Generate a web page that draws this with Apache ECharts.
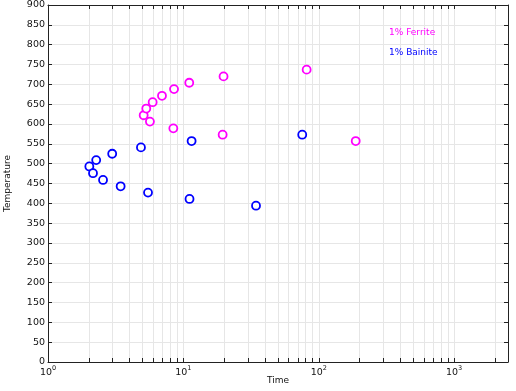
<!DOCTYPE html>
<html><head><meta charset="utf-8">
<script src="https://cdn.jsdelivr.net/npm/echarts@6/dist/echarts.min.js"></script>
<style>html,body{margin:0;padding:0;background:#fff}#c{width:516px;height:391px}</style>
</head><body><div id="c"></div>
<script>
const ferriteTime = [5.09, 5.32, 5.93, 5.66, 6.95, 8.53, 8.43, 11.05, 19.8, 19.5, 81.4, 187.5];
const ferriteTemp = [622, 639, 655, 606, 671, 688, 589, 704, 720, 573, 737, 557];
const bainiteTime = [2.02, 2.15, 2.27, 2.55, 2.98, 3.44, 4.86, 5.48, 11.5, 11.1, 34.4, 75.5];
const bainiteTemp = [493, 476, 509, 459, 525, 443, 541, 427, 557, 411, 394, 573];
const xTickValues = [1,2,3,4,5,6,7,8,9,10,20,30,40,50,60,70,80,90,100,200,300,400,500,600,700,800,900,1000,2000];
const xLabelValues = [1, 10, 100, 1000];
const seriesNames = ['1% Ferrite', '1% Bainite'];
const colors = ['#ff00ff', '#0000ff'];

const font = 'DejaVu Sans';
const axisLineStyle = {color: '#222', width: 1};
const tickStyle = {show: true, inside: true, length: 4, lineStyle: {color: '#222'}};

function pairs(xs, ys){ return xs.map((x,i)=>[x, ys[i]]); }

const chart = echarts.init(document.getElementById('c'), null, {renderer: 'canvas'});
chart.setOption({
  animation: false,
  backgroundColor: '#fff',
  grid: {left: 48, right: 8, top: 5, bottom: 29, containLabel: false, outerBoundsMode: 'none'},
  legend: {
    orient: 'vertical', left: 384, top: 27, itemGap: 8, itemWidth: 0, itemHeight: 0, padding: 0,
    icon: 'none', selectedMode: false,
    textStyle: {fontFamily: font, fontSize: 9, lineHeight: 12},
    data: seriesNames.map((n,i)=>({name: n, icon: 'none', textStyle: {color: colors[i]}}))
  },
  xAxis: [{
    type: 'log', logBase: 10, min: 1, max: 2500, position: 'bottom',
    name: 'Time', nameLocation: 'middle', nameGap: 14, nameMoveOverlap: false,
    nameTextStyle: {fontFamily: font, fontSize: 9, color: '#111'},
    axisLine: {show: true, onZero: false, lineStyle: axisLineStyle},
    axisTick: Object.assign({customValues: xTickValues}, tickStyle),
    minorTick: {show: false},
    splitLine: {show: true, lineStyle: {color: '#e6e6e6', width: 1}},
    axisLabel: {
      customValues: xLabelValues, margin: 3, color: '#111',
      formatter: v => '{b|10}{s|' + Math.round(Math.log10(v)) + '}',
      rich: {b: {fontFamily: font, fontSize: 9.5, color: '#111', verticalAlign: 'bottom'},
             s: {fontFamily: font, fontSize: 6.5, color: '#111', verticalAlign: 'top', padding: [0,0,6,0]}}
    }
  }, {
    type: 'log', logBase: 10, min: 1, max: 2500, position: 'top',
    axisLine: {show: true, onZero: false, lineStyle: axisLineStyle},
    axisTick: Object.assign({customValues: xTickValues}, tickStyle),
    splitLine: {show: false}, axisLabel: {show: false}
  }],
  yAxis: [{
    type: 'value', min: 0, max: 900, interval: 50, position: 'left',
    name: 'Temperature', nameLocation: 'middle', nameGap: 36, nameRotate: 90, nameMoveOverlap: false,
    nameTextStyle: {fontFamily: font, fontSize: 9, color: '#111'},
    axisLine: {show: true, onZero: false, lineStyle: axisLineStyle},
    axisTick: tickStyle,
    splitLine: {show: true, lineStyle: {color: '#e6e6e6', width: 1}},
    axisLabel: {fontFamily: font, fontSize: 9.5, color: '#111', margin: 3}
  }, {
    type: 'value', min: 0, max: 900, interval: 50, position: 'right',
    axisLine: {show: true, onZero: false, lineStyle: axisLineStyle},
    axisTick: tickStyle, splitLine: {show: false}, axisLabel: {show: false}
  }],
  series: [
    {name: seriesNames[0], type: 'scatter', data: pairs(ferriteTime, ferriteTemp),
     symbol: 'circle', symbolSize: 8, itemStyle: {color: '#fff', borderColor: colors[0], borderWidth: 1.8, opacity: 1}},
    {name: seriesNames[1], type: 'scatter', data: pairs(bainiteTime, bainiteTemp),
     symbol: 'circle', symbolSize: 8, itemStyle: {color: '#fff', borderColor: colors[1], borderWidth: 1.8, opacity: 1}}
  ]
});
</script></body></html>
